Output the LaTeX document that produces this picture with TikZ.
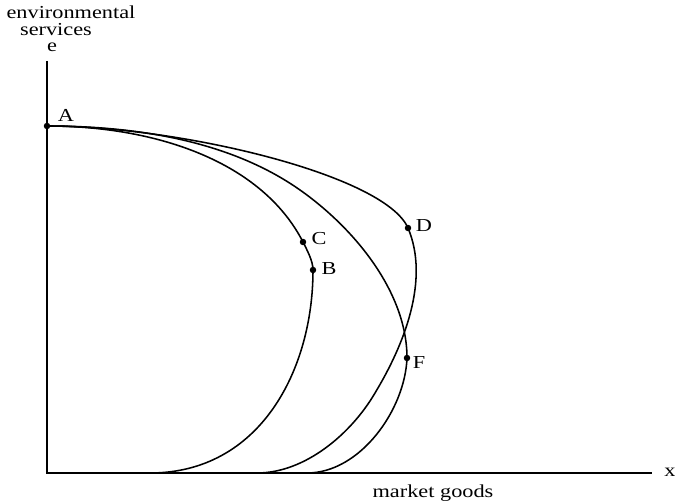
\documentclass[tikz,border=0pt]{standalone}
\usepackage{fontspec}
\setmainfont{Liberation Serif}
\usetikzlibrary{positioning}
\tikzset{
  axis/.style={line width=1.1pt},
  ppf/.style={line width=1.1pt},
  lbl/.style={font=\fontsize{13}{14}\selectfont, inner sep=0pt, anchor=base},
  pt/.style={radius=2.3pt},
}
\newcommand{\wide}[1]{\scalebox{1.22}[1]{#1}}

\begin{document}
\begin{tikzpicture}[x=0.025cm, y=-0.025cm]
    \useasboundingbox (0,0) rectangle (675,503);
    % axes
    \coordinate (orig) at (47,473);
    \coordinate (etop) at (47,61);
    \coordinate (xend) at (652,473);
    \draw[axis] (etop) -- (orig) -- (xend);
    \node[lbl] (envlbl) at (71,19) {\wide{environmental}};
    \node[lbl] (servlbl) at (56,35.5) {\wide{services}};
    \node[lbl] (elbl) at (52,52) {\wide{e}};
    \node[lbl] (xlbl) at (670,476) {\wide{x}};
    \node[lbl] (mktlbl) at (433,497) {\wide{market goods}};
    % points
    \coordinate (A) at (47,126);
    \coordinate (C) at (303,242);
    \coordinate (B) at (313,270);
    \coordinate (F) at (407,358);
    \coordinate (D) at (408,228);
    % inner curve through C and B
    \draw[ppf] (A) .. controls (157,126) and (262,162) .. (C)
                   .. controls (307,250) and (313,261) .. (B)
                   .. controls (313,370) and (260,473) .. (150,473);
    % middle curve through F
    \draw[ppf] (A) .. controls (134,126) and (229,140) .. (300,190)
                   .. controls (354,228) and (407,292) .. (F)
                   .. controls (405,410) and (360,473) .. (307,473);
    % outer curve through D
    \draw[ppf] (A) .. controls (180,126) and (385,175) .. (D)
                   .. controls (430,280) and (404,345) .. (375,393)
                   .. controls (351,434) and (305,473) .. (257,473);
    % dots and labels
    \foreach \p in {A,B,C,D,F} {
      \fill (\p) circle[pt];
    }
    \node[lbl] (Albl) at (66,122) {\wide{A}};
    \node[lbl] (Blbl) at (329,275) {\wide{B}};
    \node[lbl] (Clbl) at (319,245) {\wide{C}};
    \node[lbl] (Dlbl) at (424,231.5) {\wide{D}};
    \node[lbl] (Flbl) at (419,368) {\wide{F}};
\end{tikzpicture}
\end{document}
